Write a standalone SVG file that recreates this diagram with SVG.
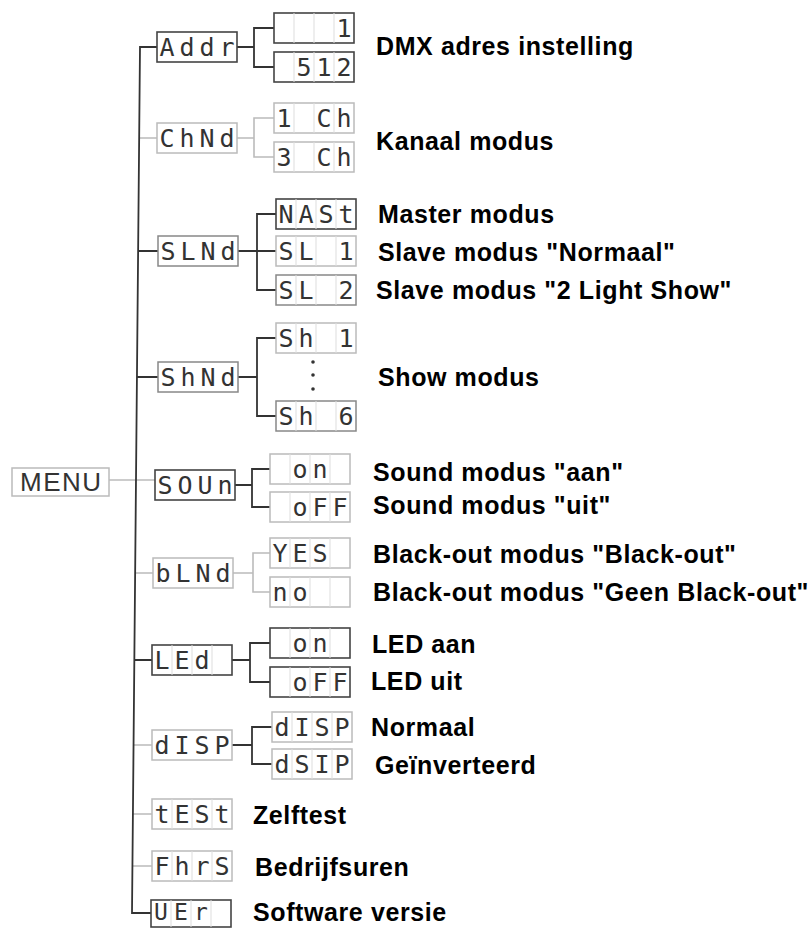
<svg xmlns="http://www.w3.org/2000/svg" width="810" height="928" viewBox="0 0 810 928">
<style>
.bd{fill:#fff;stroke:#444;stroke-width:1.6}
.bm{fill:#fff;stroke:#888;stroke-width:1.5}
.bl{fill:#fff;stroke:#bbb;stroke-width:1.5}
.cell{stroke:#ddd;stroke-width:1;fill:none}
.seg{font-family:"DejaVu Sans Mono",monospace;font-size:25px;fill:#333;text-anchor:middle}
.lbl{font-family:"Liberation Sans",Arial,sans-serif;font-weight:bold;font-size:25px;letter-spacing:0.6px;fill:#000}
.menu{font-family:"Liberation Sans",Arial,sans-serif;font-size:26px;letter-spacing:1.5px;fill:#333}
.cd{stroke:#333;stroke-width:1.8;fill:none}
.cl{stroke:#bbb;stroke-width:1.6;fill:none}
</style>
<rect width="810" height="928" fill="#fff"/>
<g id="connectors">
<path class="cl" d="M109 480H155"/>
<path class="cl" d="M139.2 138H157M237 138H254M274 118H254V157H274"/>
<path class="cl" d="M135.2 573H153M233 573H253M270 553H253V592H270"/>
<path class="cl" d="M133.6 745H152M133 814H152M132.5 866H152"/>
<path class="cd" d="M157 47H140L132 913H151"/>
<path class="cd" d="M237 47H254M274 28H254V67H274"/>
<path class="cd" d="M138.1 251H158M238 251H276M276 214H257V290H276"/>
<path class="cd" d="M137 377H158M238 377H257M276 338H257V416H276"/>
<path class="cd" d="M235 485H252M270 469H252V507H270"/>
<path class="cd" d="M134.4 660H152M232 660H250M270 643H250V682H270"/>
<path class="cd" d="M232 745H252M272 727H252V764H272"/>
</g>
<g id="n-menu"><rect class="bl" x="12" y="468" width="97" height="28"/><text class="menu" x="20" y="491">MENU</text></g>
<g id="n-addr"><rect class="bd" x="157" y="32" width="80" height="30"/><text class="seg" x="167 187 207 227" y="56">Addr</text></g>
<g id="n-addr-1"><rect class="bd" x="274" y="13" width="80" height="30"/><path class="cell" d="M294 13V43M314 13V43M334 13V43"/><text class="seg" x="344" y="37">1</text></g>
<g id="n-addr-512"><rect class="bd" x="274" y="52" width="80" height="30"/><path class="cell" d="M294 52V82M314 52V82M334 52V82"/><text class="seg" x="304 324 344" y="76">512</text></g>
<g id="n-chnd"><rect class="bl" x="157" y="123" width="80" height="30"/><text class="seg" x="167 187 207 227" y="147">ChNd</text></g>
<g id="n-1ch"><rect class="bl" x="274" y="103" width="80" height="30"/><path class="cell" d="M294 103V133M314 103V133M334 103V133"/><text class="seg" x="284 304 324 344" y="127">1 Ch</text></g>
<g id="n-3ch"><rect class="bl" x="274" y="142" width="80" height="30"/><path class="cell" d="M294 142V172M314 142V172M334 142V172"/><text class="seg" x="284 304 324 344" y="166">3 Ch</text></g>
<g id="n-slnd"><rect class="bm" x="158" y="236" width="80" height="30"/><text class="seg" x="168 188 208 228" y="260">SLNd</text></g>
<g id="n-nast"><rect class="bd" x="276" y="199" width="80" height="30"/><path class="cell" d="M296 199V229M316 199V229M336 199V229"/><text class="seg" x="286 306 326 346" y="223">NASt</text></g>
<g id="n-sl1"><rect class="bl" x="276" y="236" width="80" height="30"/><path class="cell" d="M296 236V266M316 236V266M336 236V266"/><text class="seg" x="286 306 326 346" y="260">SL 1</text></g>
<g id="n-sl2"><rect class="bm" x="276" y="275" width="80" height="30"/><path class="cell" d="M296 275V305M316 275V305M336 275V305"/><text class="seg" x="286 306 326 346" y="299">SL 2</text></g>
<g id="n-shnd"><rect class="bm" x="158" y="362" width="80" height="30"/><text class="seg" x="168 188 208 228" y="386">ShNd</text></g>
<g id="n-sh1"><rect class="bl" x="276" y="323" width="80" height="30"/><path class="cell" d="M296 323V353M316 323V353M336 323V353"/><text class="seg" x="286 306 326 346" y="347">Sh 1</text></g>
<g id="n-dots"><circle cx="313" cy="362" r="1.8" fill="#333"/><circle cx="313" cy="375" r="1.8" fill="#333"/><circle cx="313" cy="389" r="1.8" fill="#333"/></g>
<g id="n-sh6"><rect class="bm" x="276" y="401" width="80" height="30"/><path class="cell" d="M296 401V431M316 401V431M336 401V431"/><text class="seg" x="286 306 326 346" y="425">Sh 6</text></g>
<g id="n-soun"><rect class="bd" x="155" y="470" width="80" height="30"/><text class="seg" x="165 185 205 225" y="494">SOUn</text></g>
<g id="n-soun-on"><rect class="bl" x="270" y="454" width="80" height="30"/><path class="cell" d="M290 454V484M310 454V484M330 454V484"/><text class="seg" x="300 320" y="478">on</text></g>
<g id="n-soun-off"><rect class="bl" x="270" y="492" width="80" height="30"/><path class="cell" d="M290 492V522M310 492V522M330 492V522"/><text class="seg" x="300 320 340" y="516">oFF</text></g>
<g id="n-blnd"><rect class="bl" x="153" y="558" width="80" height="30"/><text class="seg" x="163 183 203 223" y="582">bLNd</text></g>
<g id="n-yes"><rect class="bl" x="270" y="538" width="80" height="30"/><path class="cell" d="M290 538V568M310 538V568M330 538V568"/><text class="seg" x="280 300 320" y="562">YES</text></g>
<g id="n-no"><rect class="bl" x="270" y="577" width="80" height="30"/><path class="cell" d="M290 577V607M310 577V607M330 577V607"/><text class="seg" x="280 300" y="601">no</text></g>
<g id="n-led"><rect class="bd" x="152" y="645" width="80" height="30"/><path class="cell" d="M172 645V675M192 645V675M212 645V675"/><text class="seg" x="162 182 202" y="669">LEd</text></g>
<g id="n-led-on"><rect class="bd" x="270" y="628" width="80" height="30"/><path class="cell" d="M290 628V658M310 628V658M330 628V658"/><text class="seg" x="300 320" y="652">on</text></g>
<g id="n-led-off"><rect class="bd" x="270" y="667" width="80" height="30"/><path class="cell" d="M290 667V697M310 667V697M330 667V697"/><text class="seg" x="300 320 340" y="691">oFF</text></g>
<g id="n-disp"><rect class="bl" x="152" y="730" width="80" height="30"/><text class="seg" x="162 182 202 222" y="754">dISP</text></g>
<g id="n-disp-n"><rect class="bl" x="272" y="712" width="80" height="30"/><path class="cell" d="M292 712V742M312 712V742M332 712V742"/><text class="seg" x="282 302 322 342" y="736">dISP</text></g>
<g id="n-disp-i"><rect class="bl" x="272" y="749" width="80" height="30"/><path class="cell" d="M292 749V779M312 749V779M332 749V779"/><text class="seg" x="282 302 322 342" y="773">dSIP</text></g>
<g id="n-test"><rect class="bl" x="152" y="799" width="80" height="30"/><path class="cell" d="M172 799V829M192 799V829M212 799V829"/><text class="seg" x="162 182 202 222" y="823">tESt</text></g>
<g id="n-fhrs"><rect class="bl" x="152" y="851" width="80" height="30"/><path class="cell" d="M172 851V881M192 851V881M212 851V881"/><text class="seg" x="162 182 202 222" y="875">FhrS</text></g>
<g id="n-ver"><rect class="bd" x="151" y="900" width="80" height="27"/><path class="cell" d="M171 900V927M191 900V927M211 900V927"/><text class="seg" x="161 181 201" y="920" style="font-size:23px">UEr</text></g>
<g id="labels">
<text class="lbl" x="376" y="55">DMX adres instelling</text>
<text class="lbl" x="376" y="150">Kanaal modus</text>
<text class="lbl" x="378" y="223">Master modus</text>
<text class="lbl" x="378" y="261">Slave modus "Normaal"</text>
<text class="lbl" x="376" y="299">Slave modus "2 Light Show"</text>
<text class="lbl" x="378" y="386">Show modus</text>
<text class="lbl" x="373" y="481">Sound modus "aan"</text>
<text class="lbl" x="373" y="514">Sound modus "uit"</text>
<text class="lbl" x="373" y="563">Black-out modus "Black-out"</text>
<text class="lbl" x="373" y="601">Black-out modus "Geen Black-out"</text>
<text class="lbl" x="372" y="653">LED aan</text>
<text class="lbl" x="371" y="690">LED uit</text>
<text class="lbl" x="371" y="736">Normaal</text>
<text class="lbl" x="375" y="774">Geïnverteerd</text>
<text class="lbl" x="253" y="824">Zelftest</text>
<text class="lbl" x="255" y="876">Bedrijfsuren</text>
<text class="lbl" x="253" y="921">Software versie</text>
</g>
</svg>
